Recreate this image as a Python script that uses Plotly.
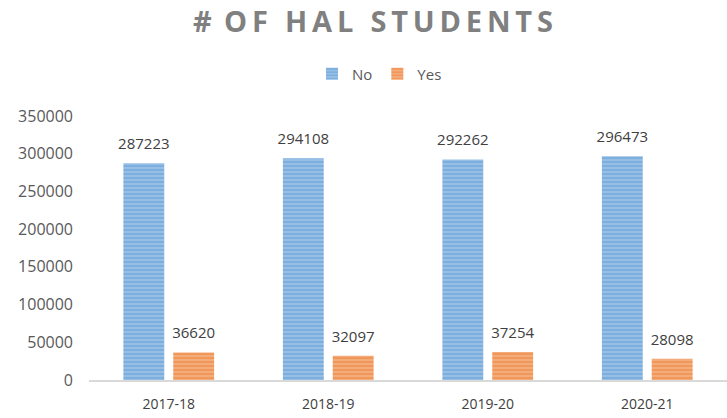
import plotly.graph_objects as go

categories = ["2017-18", "2018-19", "2019-20", "2020-21"]
no_values = [287223, 294108, 292262, 296473]
yes_values = [36620, 32097, 37254, 28098]
y_ticks = [0, 50000, 100000, 150000, 200000, 250000, 300000, 350000]

fig = go.Figure()
fig.add_trace(go.Bar(
    name="No", x=categories, y=no_values, offsetgroup="No",
    marker=dict(color="#5B9BD5", line=dict(width=0),
                pattern=dict(shape="-", fgcolor="#5B9BD5", bgcolor="#9DC3E6",
                             size=4, solidity=0.6)),
    hoverinfo="x+y",
))
fig.add_trace(go.Bar(
    name="Yes", x=categories, y=yes_values, offsetgroup="Yes",
    marker=dict(color="#ED7D31", line=dict(width=0),
                pattern=dict(shape="-", fgcolor="#ED7D31", bgcolor="#F4B183",
                             size=4, solidity=0.6)),
    hoverinfo="x+y",
))
for name, vals in (("No", no_values), ("Yes", yes_values)):
    fig.add_trace(go.Scatter(
        x=categories, y=vals, offsetgroup=name, mode="markers+text",
        text=[str(v) for v in vals], textposition="top center",
        textfont=dict(size=15, color="#404040", family="Open Sans"),
        marker=dict(size=15, opacity=0), cliponaxis=False,
        showlegend=False, hoverinfo="skip",
    ))

fig.update_layout(
    width=727, height=418,
    margin=dict(l=89, r=0, t=116, b=38),
    paper_bgcolor="white", plot_bgcolor="white",
    barmode="group", bargap=0.375, bargroupgap=0.18,
    scattermode="group", scattergap=0.375,
    title=dict(text="<b>#\u2009 O\u2009F\u2009 \u2009H\u2009A\u2009L\u2009 \u2009S\u2009T\u2009U\u2009D\u2009E\u2009N\u2009T\u2009S</b>",
               x=0.513, xref="container", xanchor="center",
               y=1 - 22 / 418, yref="container", yanchor="middle",
               font=dict(size=29, color="#808080", family="Open Sans")),
    legend=dict(orientation="h", x=0.522, xanchor="center", xref="container",
                y=1 - 74 / 418, yref="container", yanchor="middle",
                font=dict(size=15, color="#595959", family="Open Sans"),
                itemwidth=30, traceorder="normal"),
    font=dict(family="Open Sans", color="#595959"),
    showlegend=True,
)
fig.update_xaxes(showline=True, linecolor="#D9D9D9", linewidth=1.5,
                 showgrid=False, ticks="", automargin=False,
                 ticklabelstandoff=10,
                 tickfont=dict(size=14, color="#404040"))
fig.update_yaxes(range=[0, 350000], tickvals=y_ticks,
                 ticktext=[str(v) for v in y_ticks],
                 showgrid=False, zeroline=False, showline=False,
                 ticklabelstandoff=15, automargin=False,
                 tickfont=dict(size=16, color="#595959"))

fig.write_html("out.html", config={"displayModeBar": False},
               post_script="document.body.style.margin='0';")
